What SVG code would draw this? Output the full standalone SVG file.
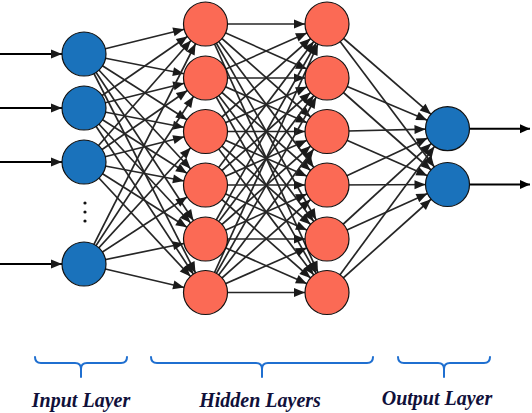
<svg xmlns="http://www.w3.org/2000/svg" width="532" height="413" viewBox="0 0 532 413">
<style>
.e{stroke:#262626;stroke-width:1.7;fill:none;marker-end:url(#ah)}
.io{stroke:#000;stroke-width:2;fill:none}
.in{fill:#1a72bb;stroke:#111;stroke-width:1.2}
.hd{fill:#fb6a55;stroke:#111;stroke-width:1.2}
.br{fill:none;stroke:#1f6fd0;stroke-width:2;stroke-linecap:round}
.lb{font-family:"Liberation Serif","Times New Roman",serif;font-weight:bold;font-style:italic;font-size:20px;fill:#10103a;text-anchor:middle}
</style>
<defs>
<marker id="ah" markerUnits="userSpaceOnUse" markerWidth="12" markerHeight="10" refX="33" refY="0" orient="auto" overflow="visible">
<path d="M0,-4.5 L11,0 L0,4.5 z" fill="#1a1a1a"/>
</marker>
<marker id="tip" markerUnits="userSpaceOnUse" markerWidth="12" markerHeight="10" refX="10" refY="0" orient="auto" overflow="visible">
<path d="M0,-4.5 L10,0 L0,4.5 z" fill="#000"/>
</marker>
</defs>
<g id="connectors">
<g id="inputs" class="io">
<line x1="0" y1="54" x2="84" y2="54" marker-end="url(#ah)"/>
<line x1="0" y1="108" x2="84" y2="108" marker-end="url(#ah)"/>
<line x1="0" y1="162" x2="84" y2="162" marker-end="url(#ah)"/>
<line x1="0" y1="264" x2="84" y2="264" marker-end="url(#ah)"/>
</g>
<g id="in-h1">
<line class="e" x1="84" y1="54" x2="205.5" y2="24"/>
<line class="e" x1="84" y1="54" x2="205.5" y2="78"/>
<line class="e" x1="84" y1="54" x2="205.5" y2="131.5"/>
<line class="e" x1="84" y1="54" x2="205.5" y2="185"/>
<line class="e" x1="84" y1="54" x2="205.5" y2="239"/>
<line class="e" x1="84" y1="54" x2="205.5" y2="292.5"/>
<line class="e" x1="84" y1="108" x2="205.5" y2="24"/>
<line class="e" x1="84" y1="108" x2="205.5" y2="78"/>
<line class="e" x1="84" y1="108" x2="205.5" y2="131.5"/>
<line class="e" x1="84" y1="108" x2="205.5" y2="185"/>
<line class="e" x1="84" y1="108" x2="205.5" y2="239"/>
<line class="e" x1="84" y1="108" x2="205.5" y2="292.5"/>
<line class="e" x1="84" y1="162" x2="205.5" y2="24"/>
<line class="e" x1="84" y1="162" x2="205.5" y2="78"/>
<line class="e" x1="84" y1="162" x2="205.5" y2="131.5"/>
<line class="e" x1="84" y1="162" x2="205.5" y2="185"/>
<line class="e" x1="84" y1="162" x2="205.5" y2="239"/>
<line class="e" x1="84" y1="162" x2="205.5" y2="292.5"/>
<line class="e" x1="84" y1="264" x2="205.5" y2="24"/>
<line class="e" x1="84" y1="264" x2="205.5" y2="78"/>
<line class="e" x1="84" y1="264" x2="205.5" y2="131.5"/>
<line class="e" x1="84" y1="264" x2="205.5" y2="185"/>
<line class="e" x1="84" y1="264" x2="205.5" y2="239"/>
<line class="e" x1="84" y1="264" x2="205.5" y2="292.5"/>
</g>
<g id="h1-h2">
<line class="e" x1="205.5" y1="24" x2="327" y2="24"/>
<line class="e" x1="205.5" y1="24" x2="327" y2="78"/>
<line class="e" x1="205.5" y1="24" x2="327" y2="131.5"/>
<line class="e" x1="205.5" y1="24" x2="327" y2="185"/>
<line class="e" x1="205.5" y1="24" x2="327" y2="239"/>
<line class="e" x1="205.5" y1="24" x2="327" y2="292.5"/>
<line class="e" x1="205.5" y1="78" x2="327" y2="24"/>
<line class="e" x1="205.5" y1="78" x2="327" y2="78"/>
<line class="e" x1="205.5" y1="78" x2="327" y2="131.5"/>
<line class="e" x1="205.5" y1="78" x2="327" y2="185"/>
<line class="e" x1="205.5" y1="78" x2="327" y2="239"/>
<line class="e" x1="205.5" y1="78" x2="327" y2="292.5"/>
<line class="e" x1="205.5" y1="131.5" x2="327" y2="24"/>
<line class="e" x1="205.5" y1="131.5" x2="327" y2="78"/>
<line class="e" x1="205.5" y1="131.5" x2="327" y2="131.5"/>
<line class="e" x1="205.5" y1="131.5" x2="327" y2="185"/>
<line class="e" x1="205.5" y1="131.5" x2="327" y2="239"/>
<line class="e" x1="205.5" y1="131.5" x2="327" y2="292.5"/>
<line class="e" x1="205.5" y1="185" x2="327" y2="24"/>
<line class="e" x1="205.5" y1="185" x2="327" y2="78"/>
<line class="e" x1="205.5" y1="185" x2="327" y2="131.5"/>
<line class="e" x1="205.5" y1="185" x2="327" y2="185"/>
<line class="e" x1="205.5" y1="185" x2="327" y2="239"/>
<line class="e" x1="205.5" y1="185" x2="327" y2="292.5"/>
<line class="e" x1="205.5" y1="239" x2="327" y2="24"/>
<line class="e" x1="205.5" y1="239" x2="327" y2="78"/>
<line class="e" x1="205.5" y1="239" x2="327" y2="131.5"/>
<line class="e" x1="205.5" y1="239" x2="327" y2="185"/>
<line class="e" x1="205.5" y1="239" x2="327" y2="239"/>
<line class="e" x1="205.5" y1="239" x2="327" y2="292.5"/>
<line class="e" x1="205.5" y1="292.5" x2="327" y2="24"/>
<line class="e" x1="205.5" y1="292.5" x2="327" y2="78"/>
<line class="e" x1="205.5" y1="292.5" x2="327" y2="131.5"/>
<line class="e" x1="205.5" y1="292.5" x2="327" y2="185"/>
<line class="e" x1="205.5" y1="292.5" x2="327" y2="239"/>
<line class="e" x1="205.5" y1="292.5" x2="327" y2="292.5"/>
</g>
<g id="h2-out">
<line class="e" x1="327" y1="24" x2="447.5" y2="128.7"/>
<line class="e" x1="327" y1="24" x2="447.5" y2="184.5"/>
<line class="e" x1="327" y1="78" x2="447.5" y2="128.7"/>
<line class="e" x1="327" y1="78" x2="447.5" y2="184.5"/>
<line class="e" x1="327" y1="131.5" x2="447.5" y2="128.7"/>
<line class="e" x1="327" y1="131.5" x2="447.5" y2="184.5"/>
<line class="e" x1="327" y1="185" x2="447.5" y2="128.7"/>
<line class="e" x1="327" y1="185" x2="447.5" y2="184.5"/>
<line class="e" x1="327" y1="239" x2="447.5" y2="128.7"/>
<line class="e" x1="327" y1="239" x2="447.5" y2="184.5"/>
<line class="e" x1="327" y1="292.5" x2="447.5" y2="128.7"/>
<line class="e" x1="327" y1="292.5" x2="447.5" y2="184.5"/>
</g>
<g id="outputs" class="io">
<line x1="470" y1="128.7" x2="530" y2="128.7" marker-end="url(#tip)"/>
<line x1="470" y1="184.5" x2="530" y2="184.5" marker-end="url(#tip)"/>
</g>
</g>
<g id="input-layer">
<g id="i1"><circle class="in" cx="84" cy="54" r="22"/></g>
<g id="i2"><circle class="in" cx="84" cy="108" r="22"/></g>
<g id="i3"><circle class="in" cx="84" cy="162" r="22"/></g>
<g id="dots" fill="#111"><circle cx="85" cy="203" r="1.6"/><circle cx="85" cy="212" r="1.6"/><circle cx="85" cy="221" r="1.6"/></g>
<g id="i4"><circle class="in" cx="84" cy="264" r="22"/></g>
</g>
<g id="hidden-layer-1">
<g id="h1a"><circle class="hd" cx="205.5" cy="24" r="22"/></g>
<g id="h1b"><circle class="hd" cx="205.5" cy="78" r="22"/></g>
<g id="h1c"><circle class="hd" cx="205.5" cy="131.5" r="22"/></g>
<g id="h1d"><circle class="hd" cx="205.5" cy="185" r="22"/></g>
<g id="h1e"><circle class="hd" cx="205.5" cy="239" r="22"/></g>
<g id="h1f"><circle class="hd" cx="205.5" cy="292.5" r="22"/></g>
</g>
<g id="hidden-layer-2">
<g id="h2a"><circle class="hd" cx="327" cy="24" r="22"/></g>
<g id="h2b"><circle class="hd" cx="327" cy="78" r="22"/></g>
<g id="h2c"><circle class="hd" cx="327" cy="131.5" r="22"/></g>
<g id="h2d"><circle class="hd" cx="327" cy="185" r="22"/></g>
<g id="h2e"><circle class="hd" cx="327" cy="239" r="22"/></g>
<g id="h2f"><circle class="hd" cx="327" cy="292.5" r="22"/></g>
</g>
<g id="output-layer">
<g id="o1"><circle class="in" cx="447.5" cy="128.7" r="22"/></g>
<g id="o2"><circle class="in" cx="447.5" cy="184.5" r="22"/></g>
</g>
<g id="braces">
<path class="br" d="M35,357 Q35,363 41,363 L75,363 Q81,363 81,369 L81,377 M127,357 Q127,363 121,363 L87,363 Q81,363 81,369"/>
<path class="br" d="M151,357 Q151,363 157,363 L256,363 Q262,363 262,369 L262,377 M373,357 Q373,363 367,363 L268,363 Q262,363 262,369"/>
<path class="br" d="M398,357 Q398,363 404,363 L438,363 Q444,363 444,369 L444,377 M490,357 Q490,363 484,363 L450,363 Q444,363 444,369"/>
</g>
<g id="labels">
<text class="lb" x="81" y="407">Input Layer</text>
<text class="lb" x="260" y="407">Hidden Layers</text>
<text class="lb" x="437" y="405">Output Layer</text>
</g>
</svg>
